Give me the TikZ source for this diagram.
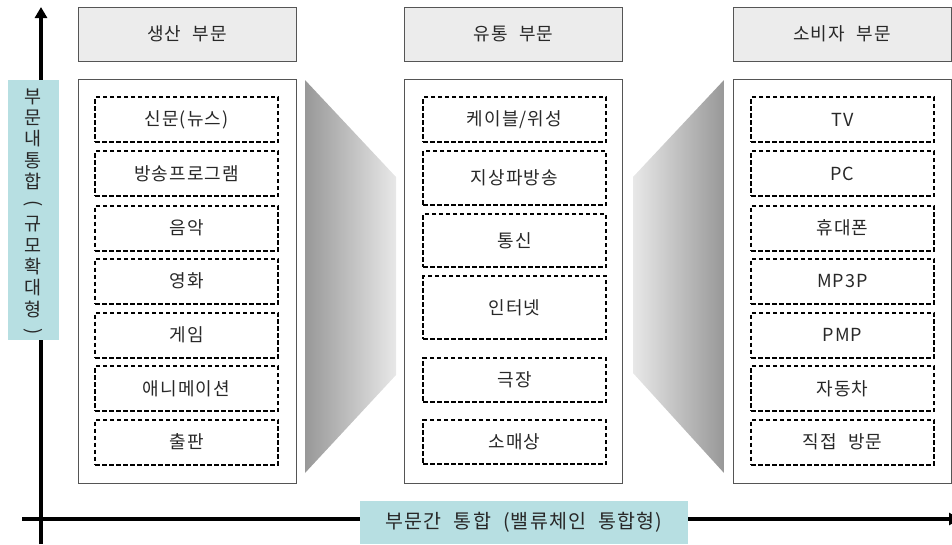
\documentclass[tikz,border=0pt]{standalone}
\usepackage{fontspec}
\setmainfont{Noto Sans CJK KR}[LetterSpace=6, WordSpace=2.2]
\usepackage{graphicx}
\usetikzlibrary{arrows.meta}
\definecolor{hdrfill}{RGB}{236,236,236}
\definecolor{lblfill}{RGB}{183,223,226}
\definecolor{edge}{RGB}{85,85,85}
\definecolor{txt}{RGB}{40,40,40}
\definecolor{fdark}{RGB}{152,152,152}
\definecolor{flight}{RGB}{232,232,232}
\begin{document}
\begin{tikzpicture}[x=1pt,y=-1pt,
  hdr/.style={draw=edge, line width=1pt, fill=hdrfill, minimum width=218pt, minimum height=54pt, inner sep=0pt, text=txt, font=\fontsize{18}{21}\selectfont},
  panel/.style={draw=edge, line width=1pt, fill=white, minimum width=218pt, minimum height=404pt, inner sep=0pt},
  item/.style={draw=black, line width=2pt, dash pattern=on 4.5pt off 2.5pt, minimum width=183pt, minimum height=#1, inner sep=0pt, text=txt, font=\fontsize{18}{21}\selectfont},
  item/.default=45pt,
  axisline/.style={line width=3.5pt, -{Triangle[width=12pt,length=11pt]}},
  lbl/.style={fill=lblfill, inner sep=0pt, text=txt}
]
\useasboundingbox (0,0) rectangle (952,544);
% axes
\coordinate (yb) at (41,544);
\coordinate (yt) at (41,7);
\coordinate (xl) at (22,519);
\coordinate (xr) at (960,519);
\draw[axisline] (yb) -- (yt);
\draw[axisline] (xl) -- (xr);
% axis labels
\node[lbl, minimum width=51pt, minimum height=260pt] (vlab) at (33.5,210) {};
\node[align=center, inner sep=0pt, text=txt,
      font=\fontsize{18.5}{21.3}\selectfont] (vtxt) at (33.5,213)
  {부\\문\\내\\통\\합\\\rotatebox[origin=c]{-90}{(}\\규\\모\\확\\대\\형\\\rotatebox[origin=c]{-90}{)}};
\node[lbl, minimum width=328pt, minimum height=43pt,
      font=\fontsize{19.5}{23}\selectfont] (hlab) at (524,522.5)
  {부문간 통합 (밸류체인 통합형)};
% headers
\node[hdr] (h1) at (187,34) {생산 부문};
\node[hdr] (h2) at (513.5,34) {유통 부문};
\node[hdr] (h3) at (842,34) {소비자 부문};
% panels
\node[panel] (p1) at (187,281) {};
\node[panel] (p2) at (513.5,281) {};
\node[panel] (p3) at (842,281) {};
% funnels
\shade[left color=fdark, right color=flight] (305,80) -- (396,177) -- (396,375) -- (305,473) -- cycle;
\shade[left color=flight, right color=fdark] (633,177) -- (724,80) -- (724,473) -- (633,373) -- cycle;
% production items
\node[item] (a1) at (186.5,119.5) {신문(뉴스)};
\node[item] (a2) at (186.5,173.5) {방송프로그램};
\node[item] (a3) at (186.5,228) {음악};
\node[item] (a4) at (186.5,281) {영화};
\node[item] (a5) at (186.5,335) {게임};
\node[item] (a6) at (186.5,388.5) {애니메이션};
\node[item] (a7) at (186.5,442) {출판};
% distribution items
\node[item] (b1) at (514.5,119.5) {케이블/위성};
\node[item=54pt] (b2) at (514.5,178) {지상파방송};
\node[item=53pt] (b3) at (514.5,240.5) {통신};
\node[item=63pt] (b4) at (514.5,307.5) {인터넷};
\node[item=44pt] (b5) at (514.5,380) {극장};
\node[item=44pt] (b6) at (514.5,442) {소매상};
% consumer items
\node[item] (c1) at (842.5,119.5) {TV};
\node[item] (c2) at (842.5,173.5) {PC};
\node[item] (c3) at (842.5,228) {휴대폰};
\node[item] (c4) at (842.5,281) {MP3P};
\node[item] (c5) at (842.5,335) {PMP};
\node[item] (c6) at (842.5,388.5) {자동차};
\node[item] (c7) at (842.5,442) {직접 방문};
\end{tikzpicture}
\end{document}
